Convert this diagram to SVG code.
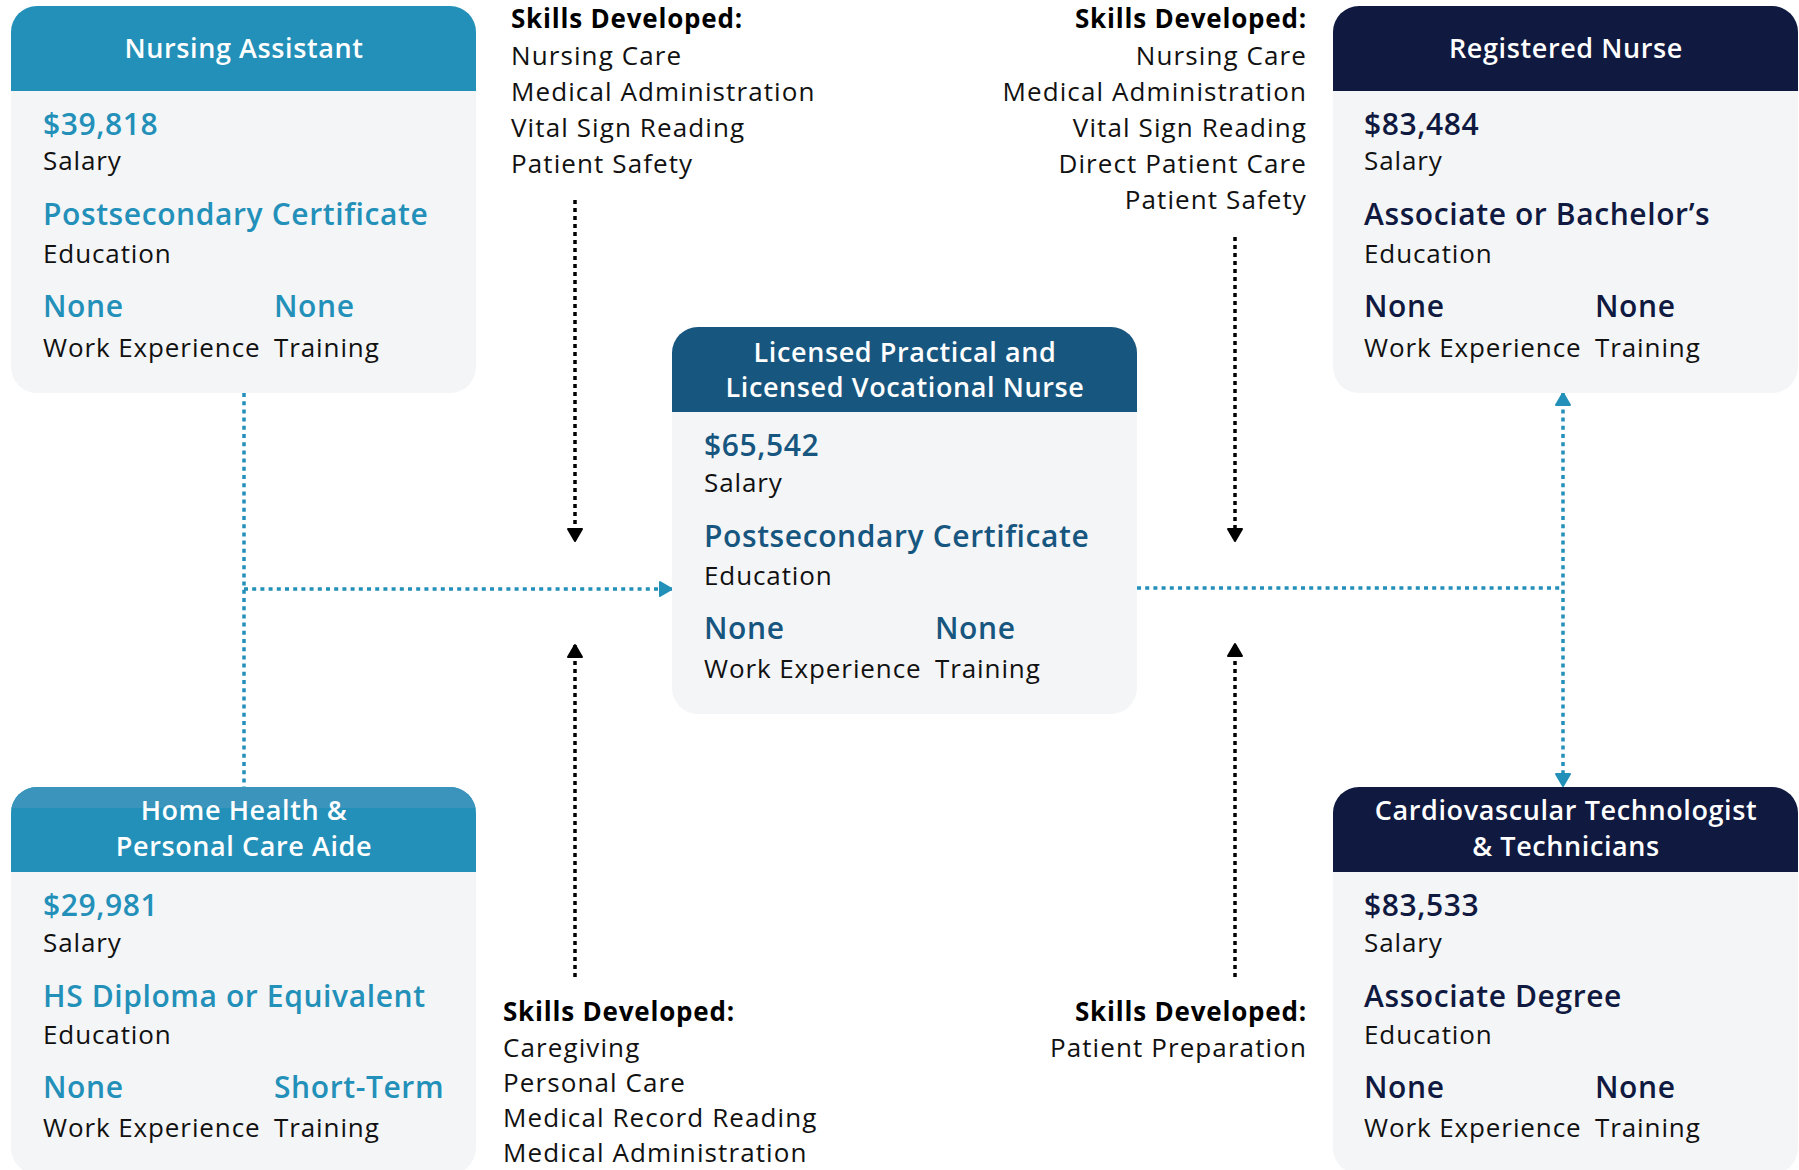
<svg xmlns="http://www.w3.org/2000/svg" width="1799" height="1170" viewBox="0 0 1799 1170">
  <style>
    text { font-family: "Open Sans", "Noto Sans", "DejaVu Sans", sans-serif; }
    .body { fill: #f4f5f7; }
    .title { fill: #ffffff; font-size: 27px; font-weight: 600; letter-spacing: 0.6px; text-anchor: middle; }
    .val { font-size: 30px; font-weight: 600; letter-spacing: 0.6px; }
    .lbl { fill: #111111; font-size: 26px; font-weight: 400; letter-spacing: 0.9px; }
    .teal { fill: #2390b9; }
    .steel { fill: #17567f; }
    .navy { fill: #10193f; }
    .skh { fill: #000000; font-size: 26px; font-weight: 700; letter-spacing: 0.8px; }
    .sk { fill: #111111; font-size: 26px; font-weight: 400; letter-spacing: 1.1px; }
    .end { text-anchor: end; }
    .blue-dot { fill: none; stroke: #2390b9; stroke-width: 3.5; stroke-dasharray: 4 4.2; }
    .black-dot { fill: none; stroke: #000000; stroke-width: 3.5; stroke-dasharray: 4 4; }
  </style>
  <defs>
    <marker id="arrow-black" viewBox="-16 -10 18 20" refX="0" refY="0" markerWidth="18" markerHeight="20" markerUnits="userSpaceOnUse" orient="auto">
      <path d="M-12,-7 L0,0 L-12,7 Z" fill="#000000" stroke="#000000" stroke-width="2" stroke-linejoin="round"/>
    </marker>
    <marker id="arrow-blue" viewBox="-16 -10 18 20" refX="0" refY="0" markerWidth="18" markerHeight="20" markerUnits="userSpaceOnUse" orient="auto-start-reverse">
      <path d="M-12,-7 L0,0 L-12,7 Z" fill="#2390b9" stroke="#2390b9" stroke-width="2" stroke-linejoin="round"/>
    </marker>
  </defs>

  <rect width="1799" height="1170" fill="#ffffff"/>

  <!-- connectors -->
  <g id="connectors">
    <path class="blue-dot" d="M244,393 V795"/>
    <path class="blue-dot" d="M244,589 H672" marker-end="url(#arrow-blue)"/>
    <path class="blue-dot" d="M1137,588 H1563"/>
    <path class="blue-dot" d="M1563,393 V786" marker-start="url(#arrow-blue)" marker-end="url(#arrow-blue)"/>
    <path class="black-dot" d="M575,200 V541" marker-end="url(#arrow-black)"/>
    <path class="black-dot" d="M575,977 V645" marker-end="url(#arrow-black)"/>
    <path class="black-dot" d="M1235,237 V541" marker-end="url(#arrow-black)"/>
    <path class="black-dot" d="M1235,977 V644" marker-end="url(#arrow-black)"/>
  </g>

  <!-- Nursing Assistant -->
  <g id="nursing-assistant">
    <rect class="body" x="11" y="6" width="465" height="387" rx="26"/>
    <path d="M11,91 V32 A26,26 0 0 1 37,6 H450 A26,26 0 0 1 476,32 V91 Z" fill="#2390b9"/>
    <text class="title" x="244" y="58">Nursing Assistant</text>
    <text class="val teal" x="43" y="135">$39,818</text>
    <text class="lbl" x="43" y="170">Salary</text>
    <text class="val teal" x="43" y="225">Postsecondary Certificate</text>
    <text class="lbl" x="43" y="263">Education</text>
    <text class="val teal" x="43" y="317">None</text>
    <text class="lbl" x="43" y="357">Work Experience</text>
    <text class="val teal" x="274" y="317">None</text>
    <text class="lbl" x="274" y="357">Training</text>
  </g>

  <!-- Licensed Practical and Licensed Vocational Nurse -->
  <g id="lpn-lvn">
    <rect class="body" x="672" y="327" width="465" height="387" rx="26"/>
    <path d="M672,412 V353 A26,26 0 0 1 698,327 H1111 A26,26 0 0 1 1137,353 V412 Z" fill="#17567f"/>
    <text class="title" x="905" y="362">Licensed Practical and</text>
    <text class="title" x="905" y="397">Licensed Vocational Nurse</text>
    <text class="val steel" x="704" y="456">$65,542</text>
    <text class="lbl" x="704" y="492">Salary</text>
    <text class="val steel" x="704" y="547">Postsecondary Certificate</text>
    <text class="lbl" x="704" y="585">Education</text>
    <text class="val steel" x="704" y="639">None</text>
    <text class="lbl" x="704" y="678">Work Experience</text>
    <text class="val steel" x="935" y="639">None</text>
    <text class="lbl" x="935" y="678">Training</text>
  </g>

  <!-- Registered Nurse -->
  <g id="registered-nurse">
    <rect class="body" x="1333" y="6" width="465" height="387" rx="26"/>
    <path d="M1333,91 V32 A26,26 0 0 1 1359,6 H1772 A26,26 0 0 1 1798,32 V91 Z" fill="#10193f"/>
    <text class="title" x="1566" y="58">Registered Nurse</text>
    <text class="val navy" x="1364" y="135">$83,484</text>
    <text class="lbl" x="1364" y="170">Salary</text>
    <text class="val navy" x="1364" y="225">Associate or Bachelor’s</text>
    <text class="lbl" x="1364" y="263">Education</text>
    <text class="val navy" x="1364" y="317">None</text>
    <text class="lbl" x="1364" y="357">Work Experience</text>
    <text class="val navy" x="1595" y="317">None</text>
    <text class="lbl" x="1595" y="357">Training</text>
  </g>

  <!-- Home Health & Personal Care Aide -->
  <g id="home-health-aide">
    <rect class="body" x="11" y="787" width="465" height="387" rx="26"/>
    <path d="M11,872 V813 A26,26 0 0 1 37,787 H450 A26,26 0 0 1 476,813 V872 Z" fill="#2390b9"/>
    <path d="M11,808 V813 A26,26 0 0 1 37,787 H450 A26,26 0 0 1 476,813 V808 Z" fill="#3a94bc"/>
    <text class="title" x="244" y="820">Home Health &amp;</text>
    <text class="title" x="244" y="856">Personal Care Aide</text>
    <text class="val teal" x="43" y="916">$29,981</text>
    <text class="lbl" x="43" y="952">Salary</text>
    <text class="val teal" x="43" y="1007">HS Diploma or Equivalent</text>
    <text class="lbl" x="43" y="1044">Education</text>
    <text class="val teal" x="43" y="1098">None</text>
    <text class="lbl" x="43" y="1137">Work Experience</text>
    <text class="val teal" x="274" y="1098">Short-Term</text>
    <text class="lbl" x="274" y="1137">Training</text>
  </g>

  <!-- Cardiovascular Technologist & Technicians -->
  <g id="cardiovascular-tech">
    <rect class="body" x="1333" y="787" width="465" height="387" rx="26"/>
    <path d="M1333,872 V813 A26,26 0 0 1 1359,787 H1772 A26,26 0 0 1 1798,813 V872 Z" fill="#10193f"/>
    <text class="title" x="1566" y="820">Cardiovascular Technologist</text>
    <text class="title" x="1566" y="856">&amp; Technicians</text>
    <text class="val navy" x="1364" y="916">$83,533</text>
    <text class="lbl" x="1364" y="952">Salary</text>
    <text class="val navy" x="1364" y="1007">Associate Degree</text>
    <text class="lbl" x="1364" y="1044">Education</text>
    <text class="val navy" x="1364" y="1098">None</text>
    <text class="lbl" x="1364" y="1137">Work Experience</text>
    <text class="val navy" x="1595" y="1098">None</text>
    <text class="lbl" x="1595" y="1137">Training</text>
  </g>

  <!-- skill lists -->
  <g id="skills-na-lpn">
    <text class="skh" x="511" y="28">Skills Developed:</text>
    <text class="sk" x="511" y="65">Nursing Care</text>
    <text class="sk" x="511" y="101">Medical Administration</text>
    <text class="sk" x="511" y="137">Vital Sign Reading</text>
    <text class="sk" x="511" y="173">Patient Safety</text>
  </g>
  <g id="skills-lpn-rn">
    <text class="skh end" x="1307" y="28">Skills Developed:</text>
    <text class="sk end" x="1307" y="65">Nursing Care</text>
    <text class="sk end" x="1307" y="101">Medical Administration</text>
    <text class="sk end" x="1307" y="137">Vital Sign Reading</text>
    <text class="sk end" x="1307" y="173">Direct Patient Care</text>
    <text class="sk end" x="1307" y="209">Patient Safety</text>
  </g>
  <g id="skills-hh-lpn">
    <text class="skh" x="503" y="1021">Skills Developed:</text>
    <text class="sk" x="503" y="1057">Caregiving</text>
    <text class="sk" x="503" y="1092">Personal Care</text>
    <text class="sk" x="503" y="1127">Medical Record Reading</text>
    <text class="sk" x="503" y="1162">Medical Administration</text>
  </g>
  <g id="skills-cv-lpn">
    <text class="skh end" x="1307" y="1021">Skills Developed:</text>
    <text class="sk end" x="1307" y="1057">Patient Preparation</text>
  </g>
</svg>
